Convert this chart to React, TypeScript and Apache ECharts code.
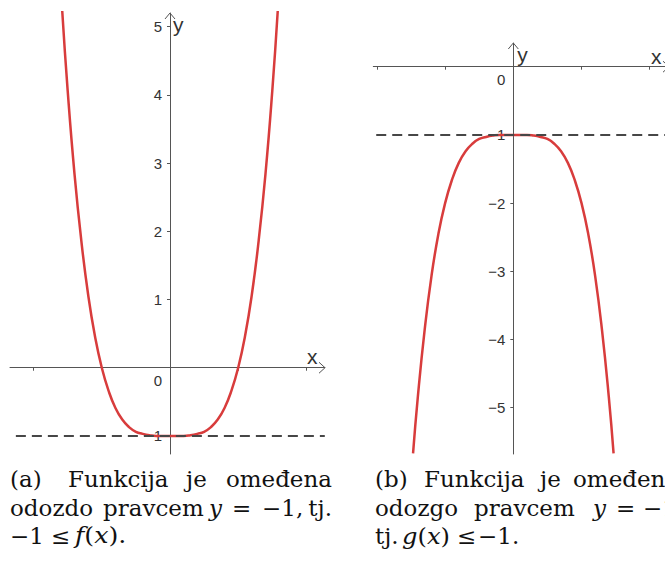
import React, { useEffect, useRef } from 'react';
import * as echarts from 'echarts';

// f(x)
const F_X = [-1.58, -1.5, -1.4, -1.3, -1.2, -1.1, -1.0, -0.9, -0.8, -0.7, -0.6, -0.5, -0.4, -0.3, -0.2, -0.1, 0, 0.1, 0.2, 0.3, 0.4, 0.5, 0.6, 0.7, 0.8, 0.9, 1.0, 1.1, 1.2, 1.3, 1.4, 1.5, 1.58];
const F_Y = [5.23, 4.06, 2.84, 1.86, 1.07, 0.46, 0, -0.34, -0.59, -0.76, -0.87, -0.94, -0.97, -0.99, -1, -1, -1, -1, -1, -0.99, -0.97, -0.94, -0.87, -0.76, -0.59, -0.34, 0, 0.46, 1.07, 1.86, 2.84, 4.06, 5.23];
// g(x)
const G_X = [-1.47, -1.4, -1.3, -1.2, -1.1, -1.0, -0.9, -0.8, -0.7, -0.6, -0.5, -0.4, -0.3, -0.2, -0.1, 0, 0.1, 0.2, 0.3, 0.4, 0.5, 0.6, 0.7, 0.8, 0.9, 1.0, 1.1, 1.2, 1.3, 1.4, 1.47];
const G_Y = [-5.67, -4.84, -3.86, -3.07, -2.46, -2, -1.66, -1.41, -1.24, -1.13, -1.06, -1.03, -1.01, -1, -1, -1, -1, -1, -1.01, -1.03, -1.06, -1.13, -1.24, -1.41, -1.66, -2, -2.46, -3.07, -3.86, -4.84, -5.67];

const BOUND = -1;
const LEFT_BOUND_X = [-2.26, 2.27];
const RIGHT_BOUND_X = [-2.01, 2.3];

const X_TICKS = [-2, -1, 1, 2];
const LEFT_Y_TICKS = [-1, 1, 2, 3, 4, 5];
const RIGHT_Y_TICKS = [-5, -4, -3, -2, -1];

const LEFT_X_RANGE = [-2.346, 2.273];
const LEFT_Y_RANGE = [-1.265, 5.201];
const RIGHT_X_RANGE = [-2.053, 2.224];
const RIGHT_Y_RANGE = [-5.679, 0.3475];

const GRID_L = { left: 10, top: 13, width: 315, height: 441 };
const GRID_R = { left: 373.3, top: 43, width: 291.7, height: 411 };

const AXIS = '#555555';
const LABEL = '#333333';
const RED = '#d83c3c';
const DASH = '#474747';
const SERIF = 'DejaVu Serif';
const SANS = 'Liberation Sans';
const CAP = 22;
const CAP_SX = 1.045;

const fmt = (v: number) => (v < 0 ? '\u2212' + Math.abs(v) : String(v));

// place each axis through the origin of the other one
const zeroOffset = (r: number[], size: number) => -((0 - r[0]) / (r[1] - r[0])) * size;

const xAxisCfg = (gi: number, r: number[], ry: number[], g: any) => ({
  type: 'value', gridIndex: gi, min: r[0], max: r[1], position: 'bottom',
  offset: zeroOffset(ry, g.height),
  axisLine: { show: true, onZero: false, lineStyle: { color: AXIS, width: 1 } },
  axisTick: { show: true, length: 3, customValues: X_TICKS, lineStyle: { color: AXIS } },
  axisLabel: { show: false },
  splitLine: { show: false },
});
const yAxisCfg = (gi: number, r: number[], rx: number[], g: any, ticks: number[]) => ({
  type: 'value', gridIndex: gi, min: r[0], max: r[1], position: 'left',
  offset: zeroOffset(rx, g.width),
  axisLine: { show: true, onZero: false, lineStyle: { color: AXIS, width: 1 } },
  axisTick: { show: true, length: 3, customValues: ticks, lineStyle: { color: AXIS } },
  axisLabel: { show: true, customValues: ticks, formatter: fmt, color: LABEL, fontSize: 15, fontFamily: SANS, margin: 8 },
  splitLine: { show: false },
});

const word = (x: number, y: number, text: string, align = 'left', rich?: any, sx = CAP_SX) => ({
  type: 'text', x, y, z: 10, scaleX: sx,
  style: { text, fill: '#111', fontSize: CAP, fontFamily: SERIF, align, verticalAlign: 'middle', rich },
});
const ITALIC = { i: { fontStyle: 'italic', fontSize: CAP, fontFamily: SERIF, fill: '#111' } };

export default function App() {
  const ref = useRef<HTMLDivElement>(null);
  useEffect(() => {
    if (!ref.current) return;
    const chart = echarts.init(ref.current, null, { renderer: 'svg' });
    chart.setOption({
      animation: false,
      backgroundColor: '#ffffff',
      grid: [
        { ...GRID_L, containLabel: false, outerBoundsMode: 'none' },
        { ...GRID_R, containLabel: false, outerBoundsMode: 'none' },
      ],
      xAxis: [xAxisCfg(0, LEFT_X_RANGE, LEFT_Y_RANGE, GRID_L), xAxisCfg(1, RIGHT_X_RANGE, RIGHT_Y_RANGE, GRID_R)],
      yAxis: [
        yAxisCfg(0, LEFT_Y_RANGE, LEFT_X_RANGE, GRID_L, LEFT_Y_TICKS),
        yAxisCfg(1, RIGHT_Y_RANGE, RIGHT_X_RANGE, GRID_R, RIGHT_Y_TICKS),
      ],
      series: [
        {
          type: 'line', xAxisIndex: 0, yAxisIndex: 0, showSymbol: false, smooth: true, clip: false,
          data: F_X.map((x, i) => [x, F_Y[i]]),
          lineStyle: { color: RED, width: 2.5 }, z: 3,
        },
        {
          type: 'line', xAxisIndex: 0, yAxisIndex: 0, showSymbol: false,
          data: LEFT_BOUND_X.map((x) => [x, BOUND]),
          lineStyle: { color: DASH, width: 2, type: [10, 6] }, z: 4,
        },
        {
          type: 'line', xAxisIndex: 1, yAxisIndex: 1, showSymbol: false, smooth: true, clip: false,
          data: G_X.map((x, i) => [x, G_Y[i]]),
          lineStyle: { color: RED, width: 2.5 }, z: 3,
        },
        {
          type: 'line', xAxisIndex: 1, yAxisIndex: 1, showSymbol: false,
          data: RIGHT_BOUND_X.map((x) => [x, BOUND]),
          lineStyle: { color: DASH, width: 2, type: [10, 6] }, z: 4,
        },
      ],
    });

    const oL = chart.convertToPixel({ gridIndex: 0 }, [0, 0]) as number[];
    const oR = chart.convertToPixel({ gridIndex: 1 }, [0, 0]) as number[];

    const arrowUp = (x: number, top: number) => ({
      type: 'polyline', z: 5,
      shape: { points: [[x - 5, top + 6], [x, top], [x + 5, top + 6]] },
      style: { stroke: AXIS, lineWidth: 1, fill: 'none' },
    });
    const arrowRight = (right: number, y: number) => ({
      type: 'polyline', z: 5,
      shape: { points: [[right - 6, y - 5.5], [right, y], [right - 6, y + 5.5]] },
      style: { stroke: AXIS, lineWidth: 1, fill: 'none' },
    });
    const axisName = (x: number, y: number, t: string) => ({
      type: 'text', x, y, z: 5,
      style: { text: t, fill: LABEL, fontSize: 21, fontFamily: SANS, align: 'left', verticalAlign: 'middle' },
    });
    const zero = (o: number[]) => ({
      type: 'text', x: o[0] - 8, y: o[1] + 13, z: 5,
      style: { text: '0', fill: LABEL, fontSize: 15, fontFamily: SANS, align: 'right', verticalAlign: 'middle' },
    });

    const L1 = 479, L2 = 508, L3 = 536;
    chart.setOption({
      graphic: [
        arrowUp(oL[0], GRID_L.top),
        arrowRight(GRID_L.left + GRID_L.width, oL[1]),
        arrowUp(oR[0], GRID_R.top),
        arrowRight(GRID_R.left + GRID_R.width + 4, oR[1]),
        axisName(oL[0] + 3, GRID_L.top + 11, 'y'),
        axisName(GRID_L.left + GRID_L.width - 18, oL[1] - 11, 'x'),
        axisName(oR[0] + 4, GRID_R.top + 11, 'y'),
        axisName(651, oR[1] - 10, 'x'),
        zero(oL),
        zero(oR),
        // caption (a)
        word(10, L1, '(a)'),
        word(68, L1, 'Funkcija'),
        word(186, L1, 'je'),
        word(332, L1, 'omeđena', 'right'),
        word(10, L2, 'odozdo'),
        word(103, L2, 'pravcem'),
        word(209, L2, '{i|y}', 'left', ITALIC),
        word(232, L2, '='),
        word(262, L2, '\u22121,'),
        word(332, L2, 'tj.', 'right'),
        word(10, L3, '\u22121'),
        word(51, L3, '\u2264'),
        word(75, L3, '{i|f}({i|x}).', 'left', ITALIC, 1.15),
        // caption (b)
        word(375, L1, '(b)'),
        word(424, L1, 'Funkcija'),
        word(540, L1, 'je'),
        word(573, L1, 'omeđena'),
        word(375, L2, 'odozgo'),
        word(474, L2, 'pravcem'),
        word(593, L2, '{i|y}', 'left', ITALIC),
        word(616, L2, '='),
        word(643, L2, '\u22121,'),
        word(375, L3, 'tj.'),
        word(402, L3, '{i|g}({i|x})', 'left', ITALIC, 1.1),
        word(457, L3, '\u2264'),
        word(478, L3, '\u22121.'),
      ],
    });
    return () => chart.dispose();
  }, []);
  return (
    <div
      ref={ref}
      style={{ position: 'absolute', left: 0, top: 0, width: 665, height: 563, background: '#fff' }}
    />
  );
}
